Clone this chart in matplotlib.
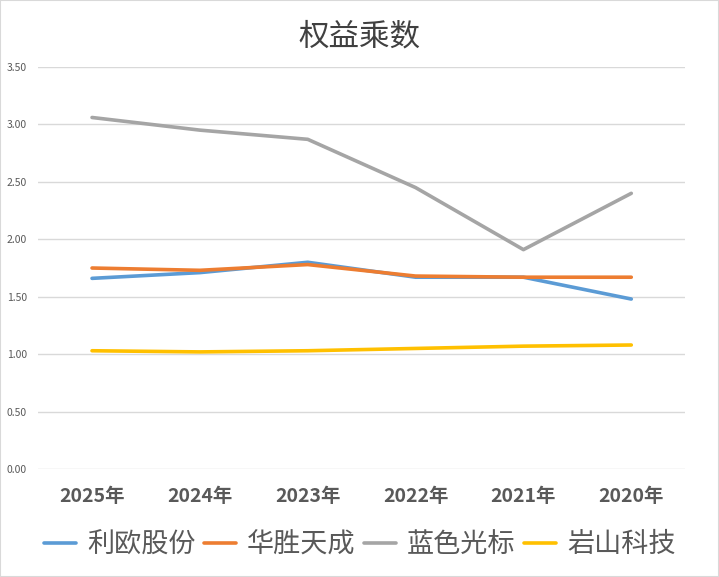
import matplotlib
matplotlib.use("Agg")
import matplotlib.pyplot as plt

plt.rcParams['font.family'] = ['Noto Sans CJK SC', 'DejaVu Sans']

years = ["2025年", "2024年", "2023年", "2022年", "2021年", "2020年"]
liou = [1.66, 1.71, 1.80, 1.67, 1.67, 1.48]
huasheng = [1.75, 1.73, 1.78, 1.68, 1.67, 1.67]
lanse = [3.06, 2.95, 2.87, 2.45, 1.91, 2.40]
yanshan = [1.03, 1.02, 1.03, 1.05, 1.07, 1.08]
names = ["利欧股份", "华胜天成", "蓝色光标", "岩山科技"]
colors = ["#5B9BD5", "#ED7D31", "#A5A5A5", "#FFC000"]

fig = plt.figure(figsize=(7.19, 5.77), dpi=100)
ax = fig.add_axes([0.053, 0.187, 0.90, 0.697])

x = list(range(len(years)))
for vals, name, c in zip([liou, huasheng, lanse, yanshan], names, colors):
    ax.plot(x, vals, color=c, lw=2.6, label=name, solid_capstyle="round")

ax.set_ylim(0, 3.5)
ax.set_yticks([0, 0.5, 1.0, 1.5, 2.0, 2.5, 3.0, 3.5])
ax.set_yticklabels(["%.2f" % v for v in ax.get_yticks()], fontsize=7.5, color="#595959")
ax.set_xlim(-0.5, len(years) - 0.5)
ax.set_xticks(x)
ax.set_xticklabels(years, fontsize=14, fontweight="bold", color="#595959")
ax.grid(axis="y", color="#D9D9D9", lw=1)
ax.set_axisbelow(True)
for s in ax.spines.values():
    s.set_visible(False)
ax.tick_params(axis="both", length=0)
ax.tick_params(axis="x", pad=13)
ax.tick_params(axis="y", pad=8)

fig.suptitle("权益乘数", fontsize=22, color="#404040", y=0.962)
fig.legend(loc="lower center", ncol=4, frameon=False, fontsize=19.5,
           bbox_to_anchor=(0.5, -0.01), handlelength=1.2, handletextpad=0.4,
           columnspacing=0.3, labelcolor="#595959")

fig.patches.append(plt.Rectangle((0, 0), 1, 1, transform=fig.transFigure,
                                 fill=False, edgecolor="#D9D9D9", lw=1.5))
fig.savefig("out.png", dpi=100)
